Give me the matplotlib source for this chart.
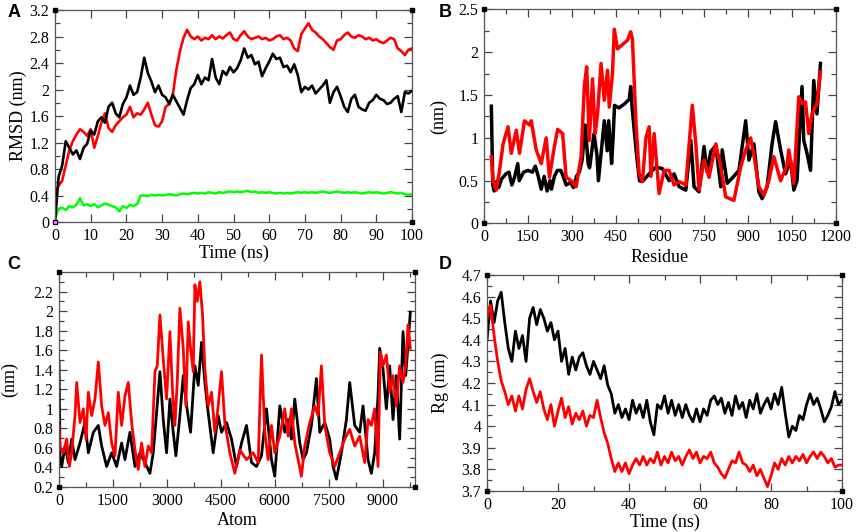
import matplotlib as mpl
mpl.use('Agg')
import matplotlib.pyplot as plt
from matplotlib.ticker import MultipleLocator, FixedLocator

plt.rcParams['font.family'] = ['Liberation Serif', 'DejaVu Serif']

# ---- panel A : RMSD vs time (0..100 ns, 1 ns steps) ----
a_time = list(range(0, 101))
a_black = [0.00, 0.68, 0.85, 1.22, 1.12, 1.02, 1.08, 0.95, 1.12, 1.18,
           1.38, 1.32, 1.52, 1.58, 1.50, 1.74, 1.80, 1.64, 1.58, 1.78,
           1.88, 2.06, 1.92, 1.96, 2.18, 2.48, 2.25, 2.12, 1.96, 2.06,
           1.92, 1.88, 1.78, 1.92, 1.82, 1.72, 1.62, 1.84, 2.02, 2.08,
           2.22, 2.08, 2.18, 2.14, 2.46, 2.18, 2.08, 2.28, 2.22, 2.34,
           2.26, 2.32, 2.44, 2.62, 2.48, 2.52, 2.38, 2.42, 2.20, 2.32,
           2.42, 2.54, 2.46, 2.48, 2.34, 2.36, 2.26, 2.38, 2.22, 1.96,
           2.04, 2.00, 2.06, 1.94, 2.00, 2.06, 2.14, 1.80, 1.96, 2.04,
           1.90, 1.74, 1.66, 1.86, 1.92, 1.74, 1.70, 1.68, 1.80, 1.84,
           1.92, 1.86, 1.84, 1.78, 1.80, 1.86, 1.90, 1.66, 1.96, 1.94,
           1.98]
a_red = [0.42, 0.55, 0.62, 0.85, 1.08, 1.22, 1.32, 1.40, 1.36, 1.30,
         1.40, 1.12, 1.30, 1.50, 1.64, 1.42, 1.36, 1.46, 1.52, 1.58,
         1.62, 1.74, 1.58, 1.64, 1.62, 1.70, 1.80, 1.62, 1.46, 1.44,
         1.52, 1.74, 1.78, 1.92, 2.30, 2.58, 2.78, 2.90, 2.80, 2.76,
         2.80, 2.74, 2.78, 2.76, 2.82, 2.76, 2.80, 2.77, 2.82, 2.86,
         2.76, 2.74, 2.82, 2.88, 2.80, 2.76, 2.78, 2.80, 2.76, 2.78,
         2.74, 2.76, 2.80, 2.82, 2.76, 2.78, 2.74, 2.62, 2.58, 2.84,
         2.92, 3.00, 2.90, 2.86, 2.80, 2.76, 2.70, 2.64, 2.60, 2.74,
         2.76, 2.82, 2.86, 2.80, 2.78, 2.82, 2.80, 2.76, 2.78, 2.74,
         2.76, 2.72, 2.70, 2.74, 2.78, 2.76, 2.62, 2.58, 2.52, 2.60,
         2.62]
a_green = [0.05, 0.20, 0.22, 0.18, 0.24, 0.22, 0.26, 0.36, 0.25, 0.27,
           0.24, 0.27, 0.22, 0.25, 0.28, 0.26, 0.24, 0.22, 0.16, 0.24,
           0.21, 0.26, 0.24, 0.27, 0.40, 0.40, 0.39, 0.41, 0.40, 0.41,
           0.40, 0.41, 0.42, 0.41, 0.40, 0.42, 0.43, 0.42, 0.43, 0.44,
           0.43, 0.44, 0.43, 0.45, 0.44, 0.43, 0.45, 0.44, 0.45, 0.46,
           0.45, 0.46, 0.45, 0.46, 0.47, 0.45, 0.46, 0.44, 0.45, 0.44,
           0.45, 0.44, 0.43, 0.44, 0.43, 0.44, 0.43, 0.44, 0.45, 0.44,
           0.45, 0.44, 0.45, 0.44, 0.45, 0.46, 0.45, 0.44, 0.45, 0.46,
           0.45, 0.44, 0.45, 0.44, 0.45, 0.44, 0.43, 0.44, 0.45, 0.44,
           0.45, 0.44, 0.43, 0.44, 0.45, 0.44, 0.43, 0.44, 0.42, 0.41,
           0.42]

# ---- panel B : RMSF per residue ----
b_res_black = [25, 30, 35, 45, 50, 60, 75, 85, 95, 105,
               115, 120, 135, 150, 165, 175, 185, 195, 205, 215,
               225, 230, 240, 250, 262, 270, 280, 295, 305, 315,
               325, 335, 345, 355, 360, 375, 385, 390, 400, 410,
               420, 425, 435, 440, 445, 460, 480, 495, 500, 505,
               520, 530, 540, 563, 586, 608, 631, 648, 665, 688,
               705, 716, 733, 750, 761, 773, 790, 807, 812, 829,
               846, 869, 892, 903, 920, 937, 948, 965, 982, 994,
               1011, 1028, 1045, 1056, 1067, 1084, 1090, 1101, 1113, 1124,
               1135, 1147]
b_black = [1.37, 0.45, 0.38, 0.50, 0.42, 0.52, 0.58, 0.60, 0.45, 0.55,
           0.70, 0.50, 0.60, 0.62, 0.60, 0.67, 0.55, 0.40, 0.55, 0.38,
           0.50, 0.40, 0.55, 0.62, 0.62, 0.55, 0.45, 0.48, 0.42, 0.55,
           0.60, 0.75, 1.15, 0.70, 0.65, 1.05, 0.80, 0.50, 0.85, 1.20,
           0.85, 1.20, 0.70, 1.00, 1.38, 1.35, 1.40, 1.45, 1.60, 1.35,
           0.80, 0.50, 0.49, 0.58, 0.66, 0.64, 0.50, 0.58, 0.43, 0.39,
           0.97, 0.43, 0.37, 0.90, 0.60, 0.84, 0.91, 0.43, 0.86, 0.47,
           0.53, 0.62, 1.20, 0.74, 0.93, 0.37, 0.29, 0.43, 0.93, 1.19,
           0.86, 0.58, 0.74, 0.39, 0.50, 1.60, 0.97, 0.82, 0.62, 1.67,
           1.28, 1.87]
b_res_red = [25, 31, 42, 53, 65, 82, 93, 110, 121, 138,
             155, 161, 178, 195, 212, 223, 240, 251, 268, 280,
             297, 314, 331, 342, 350, 359, 370, 379, 387, 399,
             410, 421, 427, 438, 444, 455, 489, 500, 506, 518,
             529, 540, 552, 563, 569, 580, 597, 614, 631, 648,
             665, 688, 710, 722, 733, 750, 767, 790, 807, 824,
             852, 875, 892, 909, 920, 937, 954, 971, 988, 1011,
             1033, 1039, 1056, 1073, 1084, 1096, 1107, 1118, 1135, 1147]
b_red = [0.78, 0.49, 0.39, 0.62, 0.93, 1.13, 0.82, 1.09, 0.82, 1.20,
         1.15, 1.20, 0.86, 0.70, 1.00, 0.54, 0.90, 1.10, 1.05, 0.54,
         0.50, 0.43, 0.78, 1.60, 1.83, 0.97, 1.69, 1.05, 1.28, 1.87,
         1.44, 1.79, 1.36, 1.75, 2.27, 2.04, 2.14, 2.24, 2.15, 1.17,
         0.58, 0.49, 1.00, 1.13, 0.55, 1.05, 0.35, 0.62, 0.62, 0.45,
         0.49, 0.45, 1.38, 0.93, 0.39, 0.74, 0.54, 0.93, 0.66, 0.31,
         0.27, 0.66, 0.86, 1.00, 0.80, 0.43, 0.33, 0.50, 0.78, 0.50,
         0.68, 0.86, 0.47, 1.48, 1.40, 1.42, 1.05, 1.28, 1.40, 1.77]

# ---- panel C : RMSF per atom ----
c_atom_black = [0, 28, 74, 167, 259, 352, 444, 583, 722, 815,
                954, 1093, 1185, 1324, 1463, 1602, 1741, 1833, 1972, 2111,
                2250, 2389, 2528, 2620, 2713, 2806, 2898, 2991, 3084, 3176,
                3250, 3361, 3454, 3547, 3658, 3778, 3871, 3963, 4056, 4148,
                4287, 4426, 4519, 4658, 4797, 4936, 5075, 5214, 5353, 5492,
                5630, 5769, 5908, 6000, 6139, 6278, 6371, 6463, 6556, 6695,
                6788, 6880, 7019, 7158, 7251, 7390, 7528, 7621, 7714, 7853,
                7992, 8084, 8223, 8362, 8454, 8593, 8686, 8778, 8871, 8918,
                9010, 9103, 9195, 9288, 9380, 9473, 9566, 9640, 9705, 9770]
c_black = [1.48, 0.52, 0.41, 0.62, 0.45, 0.69, 0.48, 0.65, 0.86, 0.55,
           0.76, 0.83, 0.62, 0.41, 0.55, 0.41, 0.65, 0.48, 0.76, 0.41,
           0.55, 0.45, 0.34, 0.55, 0.96, 1.38, 0.89, 0.55, 1.10, 0.76,
           0.52, 0.93, 1.34, 1.03, 0.76, 1.44, 1.24, 1.68, 1.27, 0.96,
           0.55, 0.93, 0.76, 0.86, 0.69, 0.41, 0.65, 0.83, 0.45, 0.41,
           0.52, 1.00, 0.48, 0.31, 1.03, 0.76, 0.89, 0.69, 1.10, 0.65,
           0.48, 0.55, 0.83, 1.31, 0.76, 0.86, 0.69, 0.41, 0.28, 0.55,
           0.89, 1.27, 0.83, 0.76, 1.03, 0.48, 0.34, 0.55, 1.13, 1.62,
           1.41, 1.00, 1.44, 0.89, 1.34, 0.69, 1.79, 1.34, 1.65, 1.99]
c_atom_red = [0, 28, 120, 213, 287, 352, 444, 491, 583, 676,
              750, 815, 907, 1000, 1093, 1185, 1278, 1370, 1463, 1556,
              1648, 1741, 1833, 1926, 2019, 2111, 2204, 2296, 2389, 2482,
              2574, 2667, 2732, 2806, 2898, 2991, 3084, 3158, 3222, 3287,
              3361, 3454, 3528, 3593, 3658, 3732, 3778, 3843, 3917, 3991,
              4056, 4148, 4241, 4333, 4426, 4519, 4611, 4750, 4889, 5028,
              5214, 5399, 5538, 5630, 5723, 5815, 5908, 6000, 6139, 6278,
              6371, 6463, 6556, 6649, 6741, 6834, 6973, 7112, 7204, 7297,
              7390, 7528, 7667, 7806, 7945, 8084, 8223, 8362, 8501, 8593,
              8686, 8778, 8871, 8936, 9010, 9103, 9195, 9288, 9380, 9473,
              9566, 9640, 9705, 9770]
c_red = [0.83, 0.60, 0.55, 0.69, 0.41, 0.55, 0.93, 1.27, 0.86, 1.00,
         0.69, 1.17, 0.93, 1.10, 1.48, 1.03, 0.83, 0.96, 0.65, 0.52,
         1.17, 0.83, 1.13, 1.27, 0.86, 0.58, 0.38, 0.65, 0.41, 0.62,
         0.55, 1.38, 1.44, 1.96, 1.51, 1.10, 1.79, 1.17, 0.83, 1.27,
         2.03, 1.62, 1.03, 1.89, 1.62, 1.38, 2.27, 2.10, 2.30, 1.96,
         1.41, 1.03, 1.17, 0.76, 1.03, 1.38, 0.86, 0.55, 0.34, 0.58,
         0.48, 0.55, 0.45, 1.55, 0.76, 0.48, 0.83, 0.55, 0.72, 1.00,
         0.72, 1.00, 0.65, 0.48, 0.31, 0.62, 0.86, 1.03, 0.93, 1.44,
         0.83, 0.55, 0.41, 0.55, 0.69, 0.79, 0.62, 0.72, 0.45, 0.89,
         0.83, 1.00, 0.41, 1.58, 1.44, 1.55, 1.17, 1.34, 1.03, 1.44,
         1.27, 1.44, 1.86, 1.62]

# ---- panel D : radius of gyration vs time ----
d_time = list(range(0, 101))
d_black = [4.40, 4.58, 4.48, 4.58, 4.62, 4.48, 4.36, 4.30, 4.44, 4.36,
           4.42, 4.30, 4.50, 4.55, 4.47, 4.54, 4.50, 4.44, 4.48, 4.40,
           4.44, 4.30, 4.36, 4.24, 4.32, 4.26, 4.32, 4.34, 4.28, 4.24,
           4.30, 4.26, 4.22, 4.28, 4.19, 4.15, 4.06, 4.10, 4.04, 4.08,
           4.03, 4.12, 4.06, 4.10, 4.04, 4.12, 4.02, 3.96, 4.10, 4.08,
           4.14, 4.06, 4.12, 4.05, 4.10, 4.04, 4.10, 4.05, 4.02, 4.08,
           4.02, 4.08, 4.05, 4.12, 4.14, 4.10, 4.13, 4.06, 4.11, 4.05,
           4.14, 4.08, 4.11, 4.04, 4.12, 4.08, 4.15, 4.06, 4.10, 4.13,
           4.08, 4.15, 4.10, 4.18, 4.06, 3.95, 4.00, 3.98, 4.05, 4.03,
           4.10, 4.15, 4.10, 4.13, 4.08, 4.02, 4.05, 4.09, 4.16, 4.10,
           4.12]
d_red = [4.50, 4.56, 4.42, 4.30, 4.21, 4.16, 4.10, 4.14, 4.07, 4.14,
         4.08, 4.17, 4.22, 4.16, 4.11, 4.16, 4.08, 4.03, 4.10, 4.00,
         4.07, 4.13, 4.04, 4.09, 4.01, 4.06, 4.03, 4.07, 4.00, 4.05,
         4.04, 4.12, 4.04, 3.97, 3.92, 3.85, 3.79, 3.83, 3.79, 3.83,
         3.78, 3.82, 3.85, 3.82, 3.86, 3.82, 3.85, 3.83, 3.88, 3.82,
         3.86, 3.83, 3.88, 3.84, 3.86, 3.82, 3.86, 3.89, 3.85, 3.88,
         3.83, 3.86, 3.85, 3.88, 3.83, 3.81, 3.78, 3.76, 3.80, 3.84,
         3.83, 3.88, 3.83, 3.82, 3.79, 3.82, 3.77, 3.80, 3.76, 3.72,
         3.77, 3.83, 3.80, 3.85, 3.82, 3.86, 3.83, 3.86, 3.84, 3.87,
         3.83, 3.86, 3.88, 3.85, 3.88, 3.86, 3.83, 3.85, 3.81, 3.82,
         3.82]

RED = '#ff0000'
GREEN = '#00ff00'


def style_axes(ax, xmaj, xmin, ymaj, ymin):
    # grace-like frame: ticks inside on every side
    ax.xaxis.set_major_locator(xmaj)
    ax.yaxis.set_major_locator(ymaj)
    if xmin is not None:
        ax.xaxis.set_minor_locator(xmin)
    if ymin is not None:
        ax.yaxis.set_minor_locator(ymin)
    ax.tick_params(which='both', direction='in', top=True, right=True,
                   labelsize=11.5, color='#444444', width=0.9)
    ax.tick_params(which='major', length=6, pad=4)
    ax.tick_params(which='minor', length=3.5)
    for s in ax.spines.values():
        s.set_color('#555555')
        s.set_linewidth(0.9)
    ax.yaxis.set_major_formatter(mpl.ticker.FuncFormatter(lambda v, p: '%g' % round(v, 2)))
    # small black squares at the frame corners
    ax.plot([0, 1, 0, 1], [0, 0, 1, 1], 's', color='black', ms=3.5,
            transform=ax.transAxes, clip_on=False, zorder=5)


def set_labels(ax, xl, yl, xpos, ypos):
    ax.set_xlabel(xl, fontsize=13)
    ax.set_ylabel(yl, fontsize=13)
    ax.xaxis.set_label_coords(0.5, xpos)
    ax.xaxis.label.set_va('center')
    ax.yaxis.set_label_coords(ypos, 0.5)
    ax.yaxis.label.set_va('center')


fig = plt.figure(figsize=(8.58, 5.32), dpi=100)

axA = fig.add_axes([0.0641, 0.5827, 0.4161, 0.3985])
axB = fig.add_axes([0.5641, 0.5799, 0.4103, 0.4023])
axC = fig.add_axes([0.0688, 0.0846, 0.4149, 0.4041])
axD = fig.add_axes([0.5676, 0.0771, 0.4138, 0.4060])

# A
axA.plot(a_time, a_green, color=GREEN, lw=1.8)
axA.plot(a_time, a_red, color=RED, lw=1.9)
axA.plot(a_time, a_black, color='black', lw=1.9)
axA.plot([0], [0], 's', color='#ff66ff', ms=2, clip_on=False, zorder=6)
axA.set_xlim(0, 100)
axA.set_ylim(0, 3.2)
style_axes(axA, MultipleLocator(10), None, MultipleLocator(0.4), MultipleLocator(0.2))
set_labels(axA, 'Time (ns)', 'RMSD (nm)', -0.146, -0.104)

# B
axB.plot(b_res_black, b_black, color='black', lw=2.5)
axB.plot(b_res_red, b_red, color=RED, lw=2.5)
axB.set_xlim(0, 1200)
axB.set_ylim(0, 2.5)
style_axes(axB, MultipleLocator(150), MultipleLocator(75), MultipleLocator(0.5), MultipleLocator(0.25))
set_labels(axB, 'Residue', '(nm)', -0.157, -0.128)

# C
axC.plot(c_atom_black, c_black, color='black', lw=2.0)
axC.plot(c_atom_red, c_red, color=RED, lw=2.0)
axC.set_xlim(0, 9900)
axC.set_ylim(0.2, 2.4)
style_axes(axC, MultipleLocator(1500), MultipleLocator(750),
           FixedLocator([0.2, 0.4, 0.6, 0.8, 1.0, 1.2, 1.4, 1.6, 1.8, 2.0, 2.2]),
           FixedLocator([0.3, 0.5, 0.7, 0.9, 1.1, 1.3, 1.5, 1.7, 1.9, 2.1, 2.3]))
set_labels(axC, 'Atom', '(nm)', -0.158, -0.14)

# D
axD.plot(d_time, d_black, color='black', lw=2.0)
axD.plot(d_time, d_red, color=RED, lw=2.0)
axD.set_xlim(0, 100)
axD.set_ylim(3.7, 4.7)
style_axes(axD, MultipleLocator(20), MultipleLocator(10), MultipleLocator(0.1), MultipleLocator(0.05))
set_labels(axD, 'Time (ns)', 'Rg (nm)', -0.147, -0.132)

# panel letters
for lab, x, y in [('A', 0.009, 0.977), ('B', 0.511, 0.977),
                  ('C', 0.009, 0.502), ('D', 0.511, 0.502)]:
    fig.text(x, y, lab, fontsize=13, fontweight='bold', family='Liberation Sans',
             ha='left', va='center')

fig.savefig('out.png', dpi=100)
